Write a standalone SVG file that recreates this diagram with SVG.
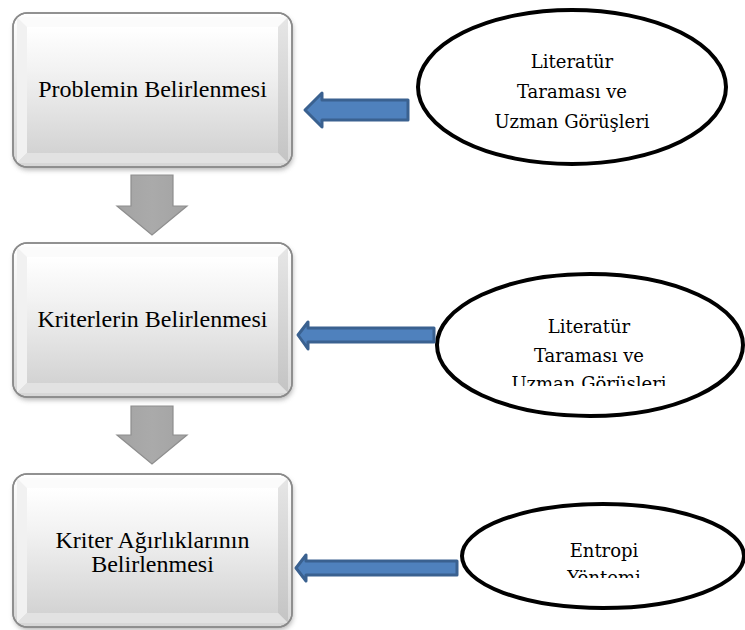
<svg xmlns="http://www.w3.org/2000/svg" width="745" height="630" viewBox="0 0 745 630">
<defs>
<linearGradient id="outerG" x1="0" y1="0" x2="0" y2="1">
<stop offset="0" stop-color="#ffffff"/><stop offset="1" stop-color="#d6d6d6"/>
</linearGradient>
<linearGradient id="faceG" x1="0" y1="0" x2="0" y2="1">
<stop offset="0" stop-color="#ffffff"/><stop offset="0.35" stop-color="#f2f2f2"/><stop offset="1" stop-color="#d3d3d3"/>
</linearGradient>
<linearGradient id="rightG" x1="0" y1="0" x2="0" y2="1">
<stop offset="0" stop-color="#e6e6e6"/><stop offset="1" stop-color="#c4c4c4"/>
</linearGradient>
<linearGradient id="grayArrow" x1="0" y1="0" x2="1" y2="0">
<stop offset="0" stop-color="#a3a3a3"/><stop offset="0.5" stop-color="#aaaaaa"/><stop offset="1" stop-color="#a3a3a3"/>
</linearGradient>
<filter id="shadow" x="-10%" y="-10%" width="120%" height="130%">
<feGaussianBlur stdDeviation="2.5"/>
</filter>
<clipPath id="clip2"><rect x="420" y="260" width="325" height="126"/></clipPath>
<clipPath id="clip3"><rect x="440" y="500" width="305" height="78"/></clipPath>
</defs>
<style>
.shadow{fill:#7a7a7a;opacity:0.55;filter:url(#shadow)}
.outer{fill:url(#outerG);stroke:#8a8a8a;stroke-width:1.5}
.face{fill:url(#faceG)}
.bvTop{fill:#fbfbfb}
.bvLeft{fill:#f1f1f1}
.bvRight{fill:url(#rightG)}
.bvBottom{fill:#e2e2e2}
.btxt{font-family:"Liberation Serif","Times New Roman",serif;font-size:24px;fill:#000;text-anchor:middle}
.etxt{font-family:"DejaVu Serif","Liberation Serif",serif;font-size:18px;fill:#000;text-anchor:middle}
.ell{fill:#fff;stroke:#000;stroke-width:4}
.down{fill:url(#grayArrow);stroke:#8e8e8e;stroke-width:1.2;stroke-linejoin:miter}
.blue{fill:#4f81bd;stroke:#3a6190;stroke-width:3;stroke-linejoin:round}
</style>

<g id="node-problem">
<rect class="shadow" x="14" y="16" width="279" height="154" rx="14"/>
<rect class="outer" x="13" y="13" width="279" height="154" rx="14"/>
<polygon class="bvTop" points="17,17 288,17 278,27 27,27"/>
<polygon class="bvLeft" points="17,17 27,27 27,153 17,163"/>
<polygon class="bvRight" points="288,17 288,163 278,153 278,27"/>
<polygon class="bvBottom" points="17,163 27,153 278,153 288,163"/>
<rect class="face" x="27" y="27" width="251" height="126"/>
<rect x="13" y="13" width="279" height="154" rx="14" fill="none" stroke="#8a8a8a" stroke-width="1.5"/>
<text class="btxt" x="152.5" y="97">Problemin Belirlenmesi</text>
</g>

<g id="node-kriter">
<rect class="shadow" x="14" y="246" width="279" height="154" rx="14"/>
<rect class="outer" x="13" y="243" width="279" height="154" rx="14"/>
<polygon class="bvTop" points="17,247 288,247 278,257 27,257"/>
<polygon class="bvLeft" points="17,247 27,257 27,383 17,393"/>
<polygon class="bvRight" points="288,247 288,393 278,383 278,257"/>
<polygon class="bvBottom" points="17,393 27,383 278,383 288,393"/>
<rect class="face" x="27" y="257" width="251" height="126"/>
<rect x="13" y="243" width="279" height="154" rx="14" fill="none" stroke="#8a8a8a" stroke-width="1.5"/>
<text class="btxt" x="152.5" y="327">Kriterlerin Belirlenmesi</text>
</g>

<g id="node-agirlik">
<rect class="shadow" x="14" y="477" width="279" height="153" rx="14"/>
<rect class="outer" x="13" y="474" width="279" height="153" rx="14"/>
<polygon class="bvTop" points="17,478 288,478 278,488 27,488"/>
<polygon class="bvLeft" points="17,478 27,488 27,613 17,623"/>
<polygon class="bvRight" points="288,478 288,623 278,613 278,488"/>
<polygon class="bvBottom" points="17,623 27,613 278,613 288,623"/>
<rect class="face" x="27" y="488" width="251" height="125"/>
<rect x="13" y="474" width="279" height="153" rx="14" fill="none" stroke="#8a8a8a" stroke-width="1.5"/>
<text class="btxt" x="152.5" y="548">Kriter Ağırlıklarının</text>
<text class="btxt" x="152.5" y="572">Belirlenmesi</text>
</g>

<g id="node-literatur1">
<ellipse class="ell" cx="572" cy="87" rx="154" ry="77"/>
<text class="etxt" x="572" y="68">Literatür</text>
<text class="etxt" x="572" y="98">Taraması ve</text>
<text class="etxt" x="572" y="128">Uzman Görüşleri</text>
</g>

<g id="node-literatur2">
<ellipse class="ell" cx="590" cy="345" rx="153" ry="71"/>
<g clip-path="url(#clip2)">
<text class="etxt" x="589" y="333">Literatür</text>
<text class="etxt" x="589" y="362">Taraması ve</text>
<text class="etxt" x="589" y="390">Uzman Görüşleri</text>
</g>
</g>

<g id="node-entropi">
<ellipse class="ell" cx="603" cy="556" rx="141" ry="52"/>
<g clip-path="url(#clip3)">
<text class="etxt" x="604" y="557">Entropi</text>
<text class="etxt" x="604" y="584">Yöntemi</text>
</g>
</g>

<g id="connectors">
<polygon class="down" points="131,175 173,175 173,206 187,206 152,235 117,206 131,206"/>
<polygon class="down" points="131,406 173,406 173,435 187,435 152,464 117,435 131,435"/>
<polygon class="blue" points="305,110 322,93 322,100 408,100 408,120 322,120 322,127"/>
<polygon class="blue" points="298,335 308,322 308,328 434,328 434,342 308,342 308,349"/>
<polygon class="blue" points="296,568 306,555 306,561 457,561 457,575 306,575 306,581"/>
</g>
</svg>
